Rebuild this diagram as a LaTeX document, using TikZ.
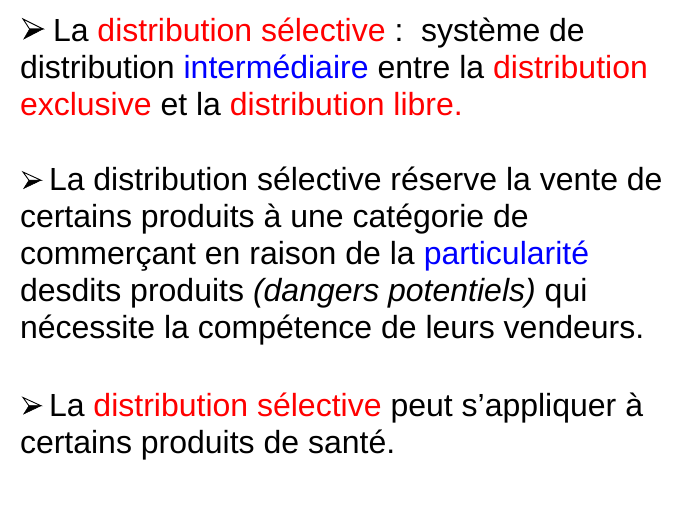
\documentclass[tikz,border=0pt]{standalone}
\usepackage{fontspec}
\setmainfont{Liberation Sans}
\definecolor{myred}{RGB}{255,0,0}
\definecolor{myblue}{RGB}{0,0,255}
\newcommand{\rd}[1]{\textcolor{myred}{#1}}
\newcommand{\bl}[1]{\textcolor{myblue}{#1}}
\tikzset{
  txtline/.style={anchor=base west, inner sep=0pt, outer sep=0pt, font=\fontsize{32}{37}\selectfont},
  arrowbul/.pic={
    \filldraw[fill=white, draw=black, line width=0.9pt, line join=miter]
      (0,0) -- (1,0.5) -- (0.33,0.5) -- cycle;
    \filldraw[black, line width=0.5pt, line join=miter]
      (0.33,0.5) -- (1,0.5) -- (0.04,1) -- cycle;
  }
}
\begin{document}
\begin{tikzpicture}[x=1pt,y=-1pt]
\useasboundingbox (0,0) rectangle (690,508);
% paragraph 1
\pic[xscale=20, yscale=20] (b1) at (23,19) {arrowbul};
\node[txtline] (p1l1) at (53,42) {La \rd{distribution sélective} :\ \ système de};
\node[txtline] (p1l2) at (20,79) {distribution \bl{intermédiaire} entre la \rd{distribution}};
\node[txtline] (p1l3) at (20,116) {\rd{exclusive} et la \rd{distribution libre.}};
% paragraph 2
\pic[xscale=18, yscale=16.5] (b2) at (23,172) {arrowbul};
\node[txtline] (p2l1) at (49,190) {La distribution sélective réserve la vente de};
\node[txtline] (p2l2) at (20,227) {certains produits à une catégorie de};
\node[txtline] (p2l3) at (20,264) {commerçant en raison de la \bl{particularité}};
\node[txtline] (p2l4) at (20,301) {desdits produits \textit{(dangers potentiels)} qui};
\node[txtline] (p2l5) at (20,338) {nécessite la compétence de leurs vendeurs.};
% paragraph 3
\pic[xscale=18, yscale=16.5] (b3) at (23,397.5) {arrowbul};
\node[txtline] (p3l1) at (49,416) {La \rd{distribution sélective} peut s’appliquer à};
\node[txtline] (p3l2) at (20,453) {certains produits de santé.};
\end{tikzpicture}
\end{document}
